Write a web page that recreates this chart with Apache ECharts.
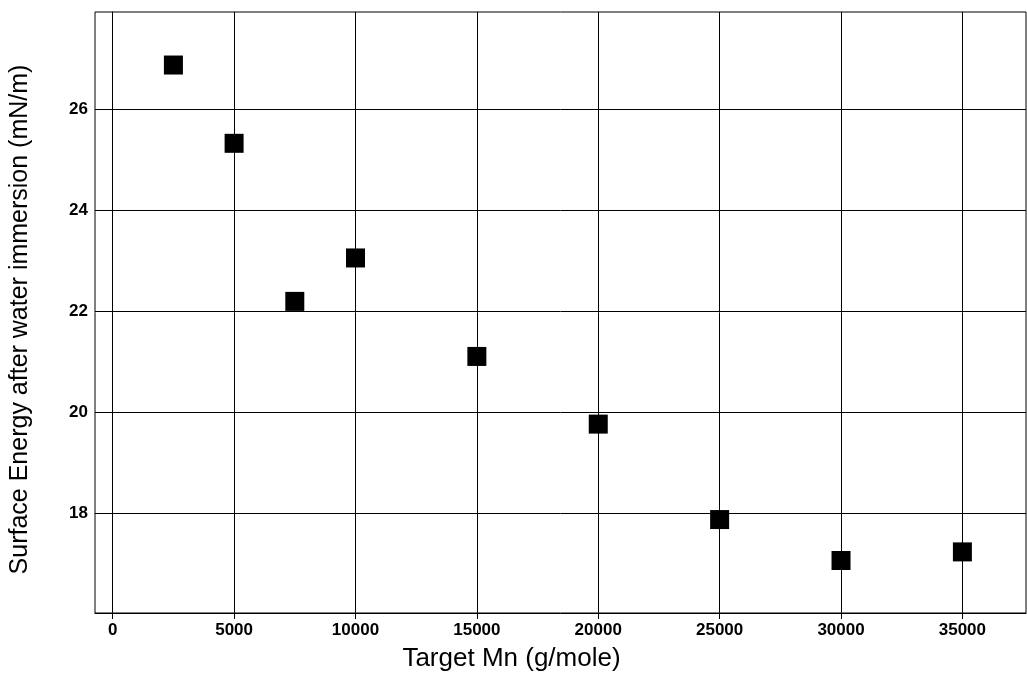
<!DOCTYPE html>
<html>
<head>
<meta charset="utf-8">
<script src="https://cdn.jsdelivr.net/npm/echarts@6/dist/echarts.min.js"></script>
<style>
html,body{margin:0;padding:0;background:#fff;}
#chart{width:1027px;height:677px;}
</style>
</head>
<body>
<div id="chart"></div>
<script>
const targetMn = [2500, 5000, 7500, 10000, 15000, 20000, 25000, 30000, 35000];
const surfaceEnergy = [26.87, 25.32, 22.19, 23.05, 21.10, 19.76, 17.87, 17.06, 17.23];
const xTicks = [0, 5000, 10000, 15000, 20000, 25000, 30000, 35000];
const yTicks = [18, 20, 22, 24, 26];
const xName = 'Target Mn (g/mole)';
const yName = 'Surface Energy after water immersion (mN/m)';

const chart = echarts.init(document.getElementById('chart'), null, {renderer: 'canvas'});
const font = '"Liberation Sans", Arial, sans-serif';
chart.setOption({
  animation: false,
  backgroundColor: '#fff',
  grid: {left: 94, right: 1, top: 12, bottom: 63, show: true, borderColor: '#000', borderWidth: 1},
  xAxis: {
    type: 'value', min: -730, max: 37620,
    name: xName, nameLocation: 'middle', nameGap: 33,
    nameTextStyle: {fontFamily: font, fontSize: 26, color: '#000', padding: [0, 98, 0, 0]},
    axisLine: {show: true, lineStyle: {color: '#000', width: 1}},
    axisTick: {show: true, length: 6, lineStyle: {color: '#000'}, customValues: xTicks},
    axisLabel: {fontFamily: font, fontWeight: 'bold', fontSize: 17, color: '#000', margin: 9, customValues: xTicks,
      formatter: v => String(v)},
    splitLine: {show: true, lineStyle: {color: '#000', width: 1}}
  },
  yAxis: {
    type: 'value', min: 16.02, max: 27.92,
    name: yName, nameLocation: 'middle', nameGap: 62,
    nameTextStyle: {fontFamily: font, fontSize: 25, color: '#000', padding: [0, 14, 0, 0]},
    axisLine: {show: true, lineStyle: {color: '#000', width: 1}},
    axisTick: {show: true, length: 6, lineStyle: {color: '#000'}, customValues: yTicks},
    axisLabel: {fontFamily: font, fontWeight: 'bold', fontSize: 17, color: '#000', margin: 7, customValues: yTicks,
      formatter: v => String(v)},
    splitLine: {show: true, lineStyle: {color: '#000', width: 1}}
  },
  series: [{
    type: 'scatter',
    symbol: 'rect',
    symbolSize: 19,
    itemStyle: {color: '#000', opacity: 1},
    data: targetMn.map((x, i) => [x, surfaceEnergy[i]])
  }]
});
</script>
</body>
</html>
